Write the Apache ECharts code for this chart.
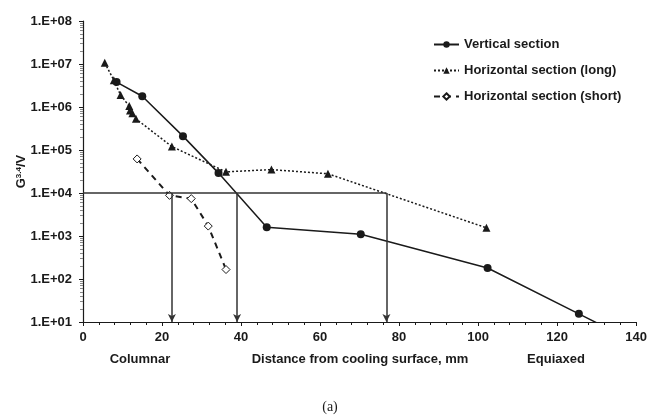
<!DOCTYPE html>
<html style="height: 100%">
<head>
    <meta charset="utf-8">
    <script type="text/javascript" src="https://cdn.jsdelivr.net/npm/echarts@6/dist/echarts.min.js"></script>
</head>
<body style="height: 100%; margin: 0; background: #fff">
<div id="container" style="height: 415px;width: 650px;position: absolute;top: 0;left: 0px;"></div>
<script type="text/javascript">
    // values: [distance mm, G^3.4/V]
    var vertical = [[8.5, 3.8e6], [15.0, 1.78e6], [25.3, 2.1e5], [34.3, 2.9e4], [46.5, 1.6e3],
        [70.3, 1.1e3], [102.4, 180], [125.5, 15.5], [140, 3.3]];
    var horizLong = [[5.5, 1.07e7], [7.8, 4.2e6], [9.5, 1.9e6], [11.7, 1.05e6], [11.9, 8.3e5],
        [12.5, 7.2e5], [13.4, 5.3e5], [22.5, 1.2e5], [36.2, 3.1e4], [47.7, 3.5e4],
        [62.0, 2.8e4], [102.1, 1.55e3]];
    var horizShort = [[13.7, 6.2e4], [21.9, 8.8e3], [27.4, 7.4e3], [31.7, 1.7e3], [36.2, 166]];
    var seriesNames = ['Vertical section', 'Horizontal section (long)', 'Horizontal section (short)'];
    var threshold = 1e4;
    var arrowX = [22.5, 39, 76.8];
    var yTickLabels = {1: '1.E+01', 2: '1.E+02', 3: '1.E+03', 4: '1.E+04', 5: '1.E+05', 6: '1.E+06', 7: '1.E+07', 8: '1.E+08'};

    var font = 'Liberation Sans';
    var ink = '#1a1a1a';

    var dom = document.getElementById("container");
    var myChart = echarts.init(dom, null, {renderer: 'canvas'});

    // threshold line and arrows down to the axis
    var marks = [[{coord: [0, threshold], symbol: 'none'}, {coord: [arrowX[arrowX.length - 1], threshold], symbol: 'none'}]];
    for (var i = 0; i < arrowX.length; i++) {
        marks.push([{coord: [arrowX[i], threshold], symbol: 'none'}, {coord: [arrowX[i], 10], symbol: 'arrow'}]);
    }

    var option = {
        animation: false,
        backgroundColor: '#fff',
        grid: {left: 83, right: 11, top: 21, bottom: 93},
        legend: {
            data: seriesNames,
            orient: 'vertical',
            left: 428,
            top: 33,
            itemGap: 13,
            itemWidth: 25,
            itemHeight: 8,
            textStyle: {fontFamily: font, fontWeight: 'bold', fontSize: 13, color: ink}
        },
        xAxis: {
            type: 'value',
            min: 0,
            max: 140,
            interval: 20,
            axisLine: {lineStyle: {color: ink, width: 1.2}},
            axisTick: {length: 4, lineStyle: {color: ink}},
            minorTick: {show: true, splitNumber: 5, length: 3, lineStyle: {color: ink}},
            splitLine: {show: false},
            axisLabel: {fontFamily: font, fontWeight: 'bold', fontSize: 13, color: ink, margin: 9}
        },
        yAxis: {
            type: 'log',
            logBase: 10,
            min: 10,
            max: 1e8,
            name: '{b|G}{s|3.4}{b|/V}',
            nameLocation: 'middle',
            nameRotate: 90,
            nameGap: 55,
            nameMoveOverlap: false,
            nameTextStyle: {
                rich: {
                    b: {fontFamily: font, fontWeight: 'bold', fontSize: 13, color: ink},
                    s: {fontFamily: font, fontWeight: 'bold', fontSize: 8, color: ink, verticalAlign: 'top', padding: [0, 0, 5, 0]}
                }
            },
            axisLine: {show: true, lineStyle: {color: ink, width: 1.2}},
            axisTick: {show: true, length: 4, lineStyle: {color: ink}},
            minorTick: {show: true, splitNumber: 9, length: 3, lineStyle: {color: '#888'}},
            splitLine: {show: false},
            axisLabel: {
                fontFamily: font, fontWeight: 'bold', fontSize: 13, color: ink, margin: 11,
                formatter: function (v) {
                    return yTickLabels[Math.round(Math.log10(v))];
                }
            }
        },
        series: [
            {
                name: seriesNames[0],
                type: 'line',
                data: vertical.map(function (p, k) {
                    return k === vertical.length - 1 ? {value: p, symbol: 'none'} : p;
                }),
                symbol: 'circle',
                symbolSize: 8,
                clip: true,
                itemStyle: {color: ink},
                lineStyle: {color: ink, width: 1.5, type: 'solid'},
                markLine: {
                    silent: true,
                    symbolSize: [6, 8],
                    label: {show: false},
                    lineStyle: {color: '#333', width: 1.5, type: 'solid'},
                    data: marks
                }
            },
            {
                name: seriesNames[1],
                type: 'line',
                data: horizLong,
                symbol: 'triangle',
                symbolSize: 8,
                itemStyle: {color: ink},
                lineStyle: {color: ink, width: 1.5, type: [2, 2]}
            },
            {
                name: seriesNames[2],
                type: 'line',
                data: horizShort,
                symbol: 'diamond',
                symbolSize: 8,
                itemStyle: {color: '#fff', borderColor: ink, borderWidth: 1},
                lineStyle: {color: ink, width: 2, type: [6, 5]}
            }
        ],
        graphic: [
            {type: 'text', x: 140, y: 359, style: {text: 'Columnar', font: 'bold 13px "Liberation Sans"', fill: ink, align: 'center', verticalAlign: 'middle'}},
            {type: 'text', x: 360, y: 359, style: {text: 'Distance from cooling surface, mm', font: 'bold 13px "Liberation Sans"', fill: ink, align: 'center', verticalAlign: 'middle'}},
            {type: 'text', x: 556, y: 359, style: {text: 'Equiaxed', font: 'bold 13px "Liberation Sans"', fill: ink, align: 'center', verticalAlign: 'middle'}},
            {type: 'text', x: 330, y: 407, style: {text: '(a)', font: '14px "Liberation Serif"', fill: ink, align: 'center', verticalAlign: 'middle'}}
        ]
    };
    myChart.setOption(option, true);
</script>
</body>
</html>
